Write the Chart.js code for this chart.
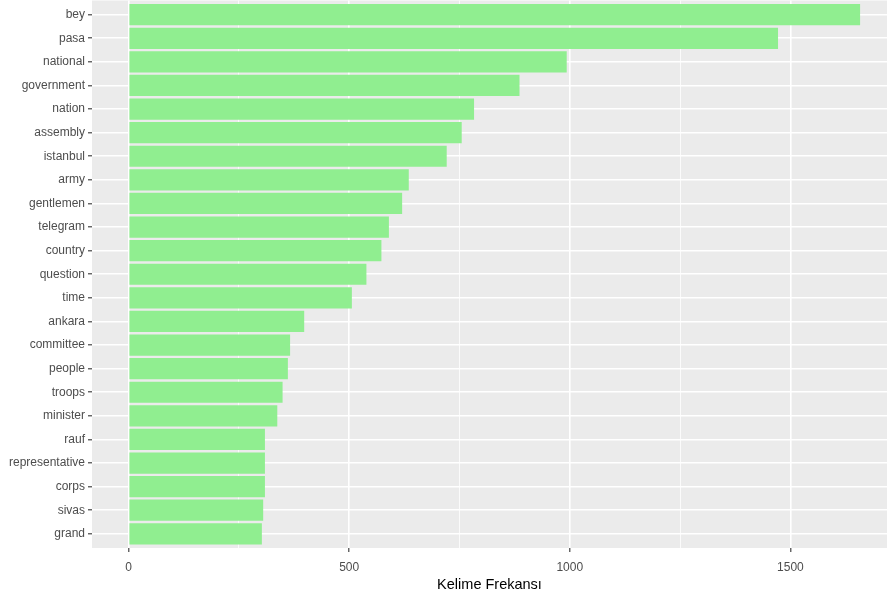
<!DOCTYPE html>
<html>
<head>
<meta charset="utf-8">
<script src="https://cdn.jsdelivr.net/npm/chart.js@4"></script>
<style>
  html, body { margin: 0; padding: 0; background: #ffffff; }
  #wrap { width: 887px; height: 592px; }
</style>
</head>
<body>
<div id="wrap"><canvas id="chart" width="887" height="592"></canvas></div>
<script>
// words, top to bottom
const words = ['bey', 'pasa', 'national', 'government', 'nation', 'assembly', 'istanbul',
  'army', 'gentlemen', 'telegram', 'country', 'question', 'time', 'ankara', 'committee',
  'people', 'troops', 'minister', 'rauf', 'representative', 'corps', 'sivas', 'grand'];
const counts = [1658, 1472, 993, 886, 783, 755, 721, 635, 620, 590, 573, 539, 506, 398,
  366, 361, 349, 337, 309, 309, 309, 305, 302];
const xMajor = [0, 500, 1000, 1500];
const xMinor = [250, 750, 1250];
const xTitle = 'Kelime Frekansı';

const FONT = "'Liberation Sans', Arial, sans-serif";

// grey ggplot panel behind the grid
const panelBg = {
  id: 'panelBg',
  beforeDraw(chart) {
    const a = chart.chartArea;
    const ctx = chart.ctx;
    ctx.save();
    ctx.fillStyle = '#EBEBEB';
    ctx.fillRect(a.left, a.top, a.right - a.left, a.bottom - a.top);
    ctx.restore();
  }
};

const isMajor = v => xMajor.includes(v);

new Chart(document.getElementById('chart'), {
  type: 'bar',
  plugins: [panelBg],
  data: {
    datasets: [{
      data: counts.map((c, i) => ({ x: c, y: i })),
      backgroundColor: '#90EE90',
      borderWidth: 0,
      categoryPercentage: 0.9,
      barPercentage: 1.0
    }]
  },
  options: {
    indexAxis: 'y',
    responsive: false,
    animation: false,
    layout: { padding: { top: 0.5, right: 0, left: 0, bottom: 0 } },
    plugins: { legend: { display: false }, tooltip: { enabled: false } },
    scales: {
      x: {
        type: 'linear',
        min: -83,
        max: 1719,
        afterBuildTicks: axis => {
          axis.ticks = [...xMajor, ...xMinor].sort((a, b) => a - b).map(v => ({ value: v }));
        },
        afterFit: scale => {
          scale.height = 44;
          scale.paddingLeft = 0;
          scale.paddingRight = 0;
        },
        border: { display: false },
        grid: {
          color: '#ffffff',
          lineWidth: ctx => isMajor(ctx.tick.value) ? 1.6 : 0.8,
          drawTicks: true,
          tickLength: 4,
          tickWidth: 1.1,
          tickColor: ctx => isMajor(ctx.tick.value) ? '#333333' : 'rgba(0,0,0,0)'
        },
        ticks: {
          autoSkip: false,
          maxRotation: 0,
          padding: 8,
          color: '#4D4D4D',
          font: { family: FONT, size: 12 },
          callback: v => isMajor(v) ? String(v) : ''
        },
        title: {
          display: true,
          text: xTitle,
          color: '#000000',
          font: { family: FONT, size: 14.5, lineHeight: 1.0 },
          padding: { top: 0, bottom: 0 }
        }
      },
      y: {
        type: 'linear',
        reverse: true,
        offset: false,
        min: -0.6,
        max: words.length - 0.4,
        afterBuildTicks: axis => {
          axis.ticks = words.map((w, i) => ({ value: i }));
        },
        afterFit: scale => {
          scale.width = 92;
          scale.paddingTop = 0;
          scale.paddingBottom = 0;
        },
        border: { display: false },
        grid: {
          offset: false,
          color: '#ffffff',
          lineWidth: 1.6,
          drawTicks: true,
          tickLength: 4,
          tickWidth: 1.1,
          tickColor: '#333333'
        },
        ticks: {
          autoSkip: false,
          padding: 3,
          color: '#4D4D4D',
          font: { family: FONT, size: 12 },
          callback: v => words[v] !== undefined ? words[v] : ''
        }
      }
    }
  }
});
</script>
</body>
</html>
